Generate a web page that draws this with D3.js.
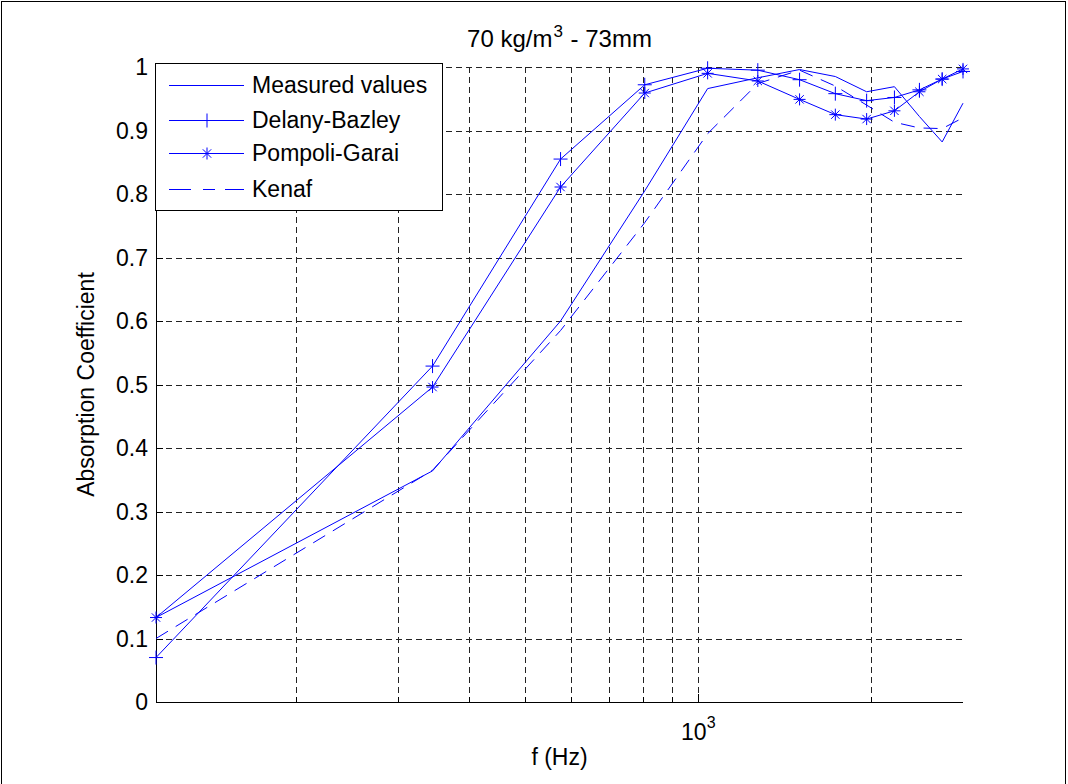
<!DOCTYPE html>
<html>
<head>
<meta charset="utf-8">
<script src="https://cdn.jsdelivr.net/npm/d3@7"></script>
<style>
    html, body { margin: 0; padding: 0; background: #fff; }
    svg text { font-family: Arial, "Liberation Sans", Helvetica, sans-serif; fill: #000; }
</style>
</head>
<body>
<div id="chart"></div>
<script>
// frequencies (Hz) of the computed points
const freqs = [114, 345, 576, 807, 1038, 1269, 1500, 1731, 1962, 2193, 2424, 2655, 2886];

const measured     = [0.133, 0.364, 0.600, 0.805, 0.966, 0.983, 0.996, 0.985, 0.961, 0.969, 0.922, 0.882, 0.943];
const delanyBazley = [0.070, 0.529, 0.855, 0.972, 0.998, 0.995, 0.980, 0.958, 0.947, 0.952, 0.964, 0.981, 0.993];
const pompoliGarai = [0.133, 0.496, 0.811, 0.959, 0.990, 0.978, 0.949, 0.925, 0.918, 0.931, 0.961, 0.981, 0.997];
const kenaf        = [0.100, 0.365, 0.585, 0.755, 0.895, 0.974, 0.995, 0.970, 0.940, 0.913, 0.904, 0.903, 0.920];

const yTicks = [0, 0.1, 0.2, 0.3, 0.4, 0.5, 0.6, 0.7, 0.8, 0.9, 1];
const xGrid = [200, 300, 400, 500, 600, 700, 800, 900, 1000, 2000];
const legendNames = ['Measured values', 'Delany-Bazley', 'Pompoli-Garai', 'Kenaf'];

document.addEventListener('DOMContentLoaded', () => {
    const width = 1068, height = 784;
    const left = 156, right = 963, top = 67, bottom = 702;
    const blue = '#0000ff';

    const svg = d3.select('#chart').append('svg')
        .attr('width', width)
        .attr('height', height);

    // figure frame
    svg.append('rect')
        .attr('x', 1.5).attr('y', 1.5)
        .attr('width', 1064).attr('height', 800)
        .attr('fill', 'none').attr('stroke', '#000');

    const x = d3.scaleLog().domain([freqs[0], freqs[freqs.length - 1]]).range([left, right]);
    const y = d3.scaleLinear().domain([0, 1]).range([bottom, top]);

    // grid
    const grid = svg.append('g')
        .attr('stroke', '#222')
        .attr('stroke-dasharray', '6,4')
        .attr('shape-rendering', 'crispEdges');

    grid.selectAll('.hg')
        .data(yTicks.slice(1))
        .enter().append('line')
        .attr('x1', left).attr('x2', right)
        .attr('y1', d => Math.round(y(d)) + 0.5)
        .attr('y2', d => Math.round(y(d)) + 0.5);

    grid.selectAll('.vg')
        .data(xGrid)
        .enter().append('line')
        .attr('x1', d => Math.round(x(d)) + 0.5)
        .attr('x2', d => Math.round(x(d)) + 0.5)
        .attr('y1', top).attr('y2', bottom);

    // axes lines (box off)
    const axes = svg.append('g').attr('stroke', '#000').attr('shape-rendering', 'crispEdges');
    axes.append('line').attr('x1', left + 0.5).attr('x2', left + 0.5).attr('y1', top).attr('y2', bottom + 0.5);
    axes.append('line').attr('x1', left).attr('x2', right).attr('y1', bottom + 0.5).attr('y2', bottom + 0.5);

    axes.selectAll('.yt')
        .data(yTicks)
        .enter().append('line')
        .attr('x1', left).attr('x2', left + 7)
        .attr('y1', d => Math.round(y(d)) + 0.5)
        .attr('y2', d => Math.round(y(d)) + 0.5);

    axes.selectAll('.xt')
        .data(xGrid)
        .enter().append('line')
        .attr('x1', d => Math.round(x(d)) + 0.5)
        .attr('x2', d => Math.round(x(d)) + 0.5)
        .attr('y1', bottom).attr('y2', d => bottom - (d === 1000 ? 8 : 5));

    // y tick labels
    svg.append('g').selectAll('text')
        .data(yTicks)
        .enter().append('text')
        .attr('x', left - 8)
        .attr('y', d => y(d))
        .attr('dy', '0.35em')
        .attr('text-anchor', 'end')
        .style('font-size', '23px')
        .text(d => d3.format('~g')(d));

    // x tick label 10^3
    const xl = svg.append('text')
        .attr('x', x(1000))
        .attr('y', 740)
        .attr('text-anchor', 'middle')
        .style('font-size', '23px');
    xl.append('tspan').text('10');
    xl.append('tspan').attr('dy', -12).style('font-size', '16px').text('3');

    // axis labels
    svg.append('text')
        .attr('x', (left + right) / 2)
        .attr('y', 765)
        .attr('text-anchor', 'middle')
        .style('font-size', '23px')
        .text('f (Hz)');

    svg.append('text')
        .attr('transform', 'rotate(-90)')
        .attr('x', -(top + bottom) / 2)
        .attr('y', 94)
        .attr('text-anchor', 'middle')
        .style('font-size', '23px')
        .text('Absorption Coefficient');

    // title
    const title = svg.append('text')
        .attr('x', (left + right) / 2)
        .attr('y', 47)
        .attr('text-anchor', 'middle')
        .style('font-size', '24px');
    title.append('tspan').text('70 kg/m');
    title.append('tspan').attr('dx', 1).attr('dy', -10).style('font-size', '17px').text('3');
    title.append('tspan').attr('dx', 1).attr('dy', 10).text(' - 73mm');

    // marker shapes
    const plus = s => `M${-s},0H${s}M0,${-s}V${s}`;
    const star = s => {
        const d = s * 0.7;
        return plus(s) + `M${-d},${-d}L${d},${d}M${-d},${d}L${d},${-d}`;
    };

    const line = d3.line()
        .x((d, i) => x(freqs[i]))
        .y(d => y(d));

    const series = [
        { name: legendNames[0], values: measured, dash: null, marker: null },
        { name: legendNames[1], values: delanyBazley, dash: null, marker: plus(7) },
        { name: legendNames[2], values: pompoliGarai, dash: null, marker: star(6) },
        { name: legendNames[3], values: kenaf, dash: '14,9', marker: null }
    ];

    const plot = svg.append('g');
    series.forEach(s => {
        plot.append('path')
            .attr('d', line(s.values))
            .attr('fill', 'none')
            .attr('stroke', blue)
            .attr('stroke-width', 1)
            .attr('stroke-dasharray', s.dash);
        if (s.marker) {
            plot.selectAll(null)
                .data(s.values)
                .enter().append('path')
                .attr('transform', (d, i) => `translate(${x(freqs[i])},${y(d)})`)
                .attr('d', s.marker)
                .attr('fill', 'none')
                .attr('stroke', blue)
                .attr('stroke-width', 1);
        }
    });

    // legend
    const legend = svg.append('g');
    legend.append('rect')
        .attr('x', 155.5).attr('y', 63.5)
        .attr('width', 287).attr('height', 147)
        .attr('fill', '#fff').attr('stroke', '#000');

    const rows = [85, 120, 153, 189];
    series.forEach((s, i) => {
        const g = legend.append('g').attr('transform', `translate(0,${rows[i]})`);
        g.append('line')
            .attr('x1', 169).attr('x2', 244)
            .attr('y1', 0.5).attr('y2', 0.5)
            .attr('stroke', blue)
            .attr('stroke-dasharray', s.dash ? '22,12,12,10' : null);
        if (s.marker) {
            g.append('path')
                .attr('transform', 'translate(207,0.5)')
                .attr('d', s.marker)
                .attr('fill', 'none')
                .attr('stroke', blue);
        }
        g.append('text')
            .attr('x', 252)
            .attr('y', 0)
            .attr('dy', '0.36em')
            .style('font-size', '23px')
            .text(s.name);
    });
});
</script>
</body>
</html>
